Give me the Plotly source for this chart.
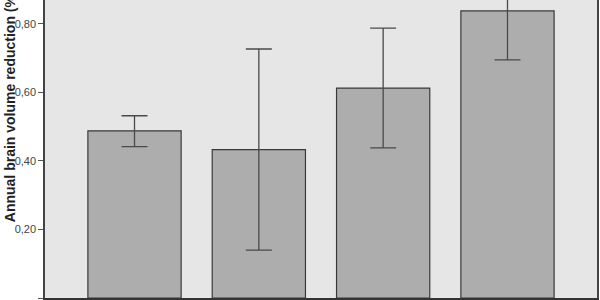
import plotly.graph_objects as go

categories = ["Group 1", "Group 2", "Group 3", "Group 4"]
mean_reduction = [0.488, 0.433, 0.613, 0.838]
err_plus = [0.044, 0.294, 0.175, 0.143]
err_minus = [0.046, 0.293, 0.175, 0.143]
y_ticks = [0.0, 0.2, 0.4, 0.6, 0.8]

fig = go.Figure()
fig.add_trace(go.Bar(
    x=categories,
    y=mean_reduction,
    width=0.75,
    marker=dict(color="#adadad", line=dict(color="#3a3a3a", width=1.2)),
    error_y=dict(type="data", symmetric=False, array=err_plus, arrayminus=err_minus,
                 color="#4a4a4a", thickness=1.3, width=13),
))

fig.update_layout(
    width=600, height=300,
    margin=dict(l=45, r=3, t=0, b=2),
    paper_bgcolor="white",
    plot_bgcolor="#e6e6e6",
    separators=", ",
    showlegend=False,
    font=dict(family="Liberation Sans, Arial, sans-serif", color="#333333"),
    xaxis=dict(range=[-0.72, 3.72], showticklabels=False, ticks="",
               showline=True, linecolor="#333333", linewidth=1.5, showgrid=False,
               zeroline=False),
    yaxis=dict(range=[0, 0.870], tickvals=y_ticks, tickformat=".2f",
               ticks="outside", ticklen=5, tickcolor="#555555", tickwidth=1,
               tickfont=dict(size=11, color="#444444"),
               showline=True, mirror=True, linecolor="#444444", linewidth=1.5,
               showgrid=False, zeroline=False),
    annotations=[dict(
        text="<b>Annual brain volume reduction (%)</b>",
        xref="paper", yref="paper", x=-0.0645, y=0.645,
        xanchor="center", yanchor="middle", textangle=-90, showarrow=False,
        font=dict(size=14, color="#222222", family="Liberation Sans, Arial, sans-serif"),
    )],
)

fig.write_html("out.html")
